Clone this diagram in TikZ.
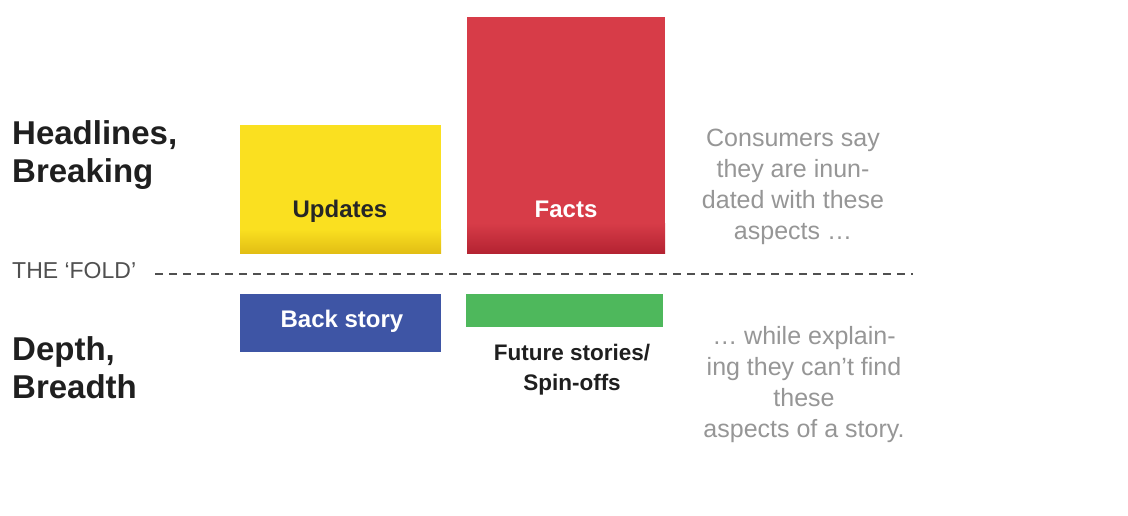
\documentclass[tikz,border=0pt]{standalone}
\usepackage{fontspec}
\setmainfont{Liberation Sans}
\definecolor{cyel}{RGB}{250,224,32}
\definecolor{cyeld}{RGB}{226,190,20}
\definecolor{cred}{RGB}{215,60,72}
\definecolor{credd}{RGB}{180,35,50}
\definecolor{cblue}{RGB}{62,85,165}
\definecolor{cgreen}{RGB}{78,184,92}
\definecolor{cgreytext}{RGB}{150,150,150}
\definecolor{cfold}{RGB}{80,80,80}
\begin{document}
\begin{tikzpicture}[x=1pt,y=-1pt,
  bar/.style={fill=#1,draw=none,inner sep=0,outer sep=0},
  sidelabel/.style={font=\fontsize{33}{38}\selectfont\bfseries,align=left,inner sep=0,text=black!88},
  boxlabel/.style={font=\fontsize{24}{28}\selectfont\bfseries,inner sep=0},
  note/.style={font=\fontsize{25}{31}\selectfont,align=center,inner sep=0,text=cgreytext},
  foldline/.style={draw=cfold,line width=1.6pt,dash pattern=on 8pt off 6pt}]
\useasboundingbox[fill=white] (0,0) rectangle (1128,515);
% boxes
\node[bar=cyel,minimum width=201pt,minimum height=128pt] (upd) at (340.5,189) {};
\shade[top color=cyel,bottom color=cyeld] (upd.south west) ++(0,-24) rectangle (upd.south east);
\node[bar=cred,minimum width=198pt,minimum height=236pt] (fac) at (566,135) {};
\shade[top color=cred,bottom color=credd] (fac.south west) ++(0,-30) rectangle (fac.south east);
\node[bar=cblue,minimum width=201pt,minimum height=58pt] (bck) at (340.5,323) {};
\node[bar=cgreen,minimum width=197pt,minimum height=33pt] (fut) at (564.5,310.5) {};
% box labels
\node[boxlabel,text=black!85,anchor=base] (updl) at (340,217) {Updates};
\node[boxlabel,text=white,anchor=base] (facl) at (566,217) {Facts};
\node[boxlabel,text=white,anchor=base] (bckl) at (342,327) {Back story};
\node[font=\fontsize{22.5}{30}\selectfont\bfseries,align=center,inner sep=0,text=black!88,anchor=base] (futl) at (572,390) {Future stories/\\Spin-offs};
% side labels
\node[sidelabel,anchor=base west] (head) at (12,182) {Headlines,\\Breaking};
\node[sidelabel,anchor=base west] (dep) at (12,398) {Depth,\\Breadth};
\node[font=\fontsize{23}{27}\selectfont,inner sep=0,text=cfold,anchor=base west] (fold) at (12,278) {THE ‘FOLD’};
% fold line
\coordinate (f0) at (155,274);
\coordinate (f1) at (913,274);
\draw[foldline] (f0) -- (f1);
% notes
\node[note,anchor=base] (n1) at (793,239) {Consumers say\\they are inun-\\dated with these\\aspects …};
\node[note,anchor=base] (n2) at (804,437) {… while explain-\\ing they can’t find\\these\\aspects of a story.};
\end{tikzpicture}
\end{document}
